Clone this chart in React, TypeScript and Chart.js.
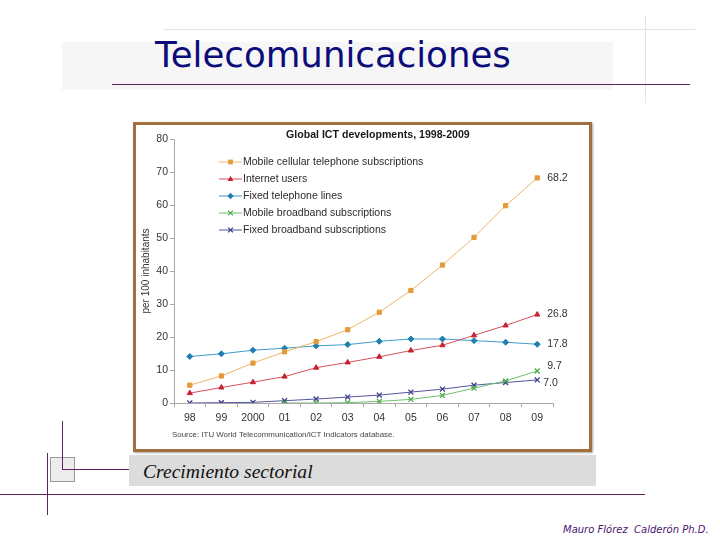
import React, { useEffect, useRef } from "react";
import { Chart, registerables } from "chart.js";

Chart.register(...registerables);

const years = ["98", "99", "2000", "01", "02", "03", "04", "05", "06", "07", "08", "09"];
const mobileCellular = [5.4, 8.2, 12.1, 15.5, 18.6, 22.2, 27.5, 34.1, 41.8, 50.2, 59.8, 68.2];
const internetUsers = [3.0, 4.7, 6.3, 8.0, 10.7, 12.3, 14.0, 15.9, 17.5, 20.5, 23.5, 26.8];
const fixedTelephone = [14.1, 14.9, 16.0, 16.6, 17.3, 17.7, 18.7, 19.4, 19.4, 18.9, 18.4, 17.8];
const mobileBroadband = [null, null, null, 0.0, 0.0, 0.1, 0.5, 1.1, 2.3, 4.5, 6.7, 9.7];
const fixedBroadband = [0.0, 0.1, 0.2, 0.7, 1.2, 1.8, 2.4, 3.3, 4.2, 5.4, 6.2, 7.0];
const seriesNames = [
  "Mobile cellular telephone subscriptions",
  "Internet users",
  "Fixed telephone lines",
  "Mobile broadband subscriptions",
  "Fixed broadband subscriptions",
];
const yTicks = [0, 10, 20, 30, 40, 50, 60, 70, 80];
const chartTitle = "Global ICT developments, 1998-2009";
const yTitle = "per 100 inhabitants";
const sourceText = "Source: ITU World Telecommunication/ICT Indicators database.";
const slideTitle = "Telecomunicaciones";
const caption = "Crecimiento sectorial";
const footer = "Mauro Flórez  Calderón Ph.D.";

const FONT = '"Liberation Sans", Arial, sans-serif';

function drawMarker(ctx: CanvasRenderingContext2D, style: string, x: number, y: number, r: number, color: string) {
  ctx.save();
  ctx.fillStyle = color;
  ctx.strokeStyle = color;
  ctx.lineWidth = 1.3;
  ctx.beginPath();
  if (style === "rect") {
    ctx.rect(x - r * 0.75, y - r * 0.75, r * 1.5, r * 1.5);
    ctx.fill();
  } else if (style === "triangle") {
    ctx.moveTo(x, y - r);
    ctx.lineTo(x + r * 0.9, y + r * 0.6);
    ctx.lineTo(x - r * 0.9, y + r * 0.6);
    ctx.closePath();
    ctx.fill();
  } else if (style === "rectRot") {
    ctx.moveTo(x, y - r);
    ctx.lineTo(x + r, y);
    ctx.lineTo(x, y + r);
    ctx.lineTo(x - r, y);
    ctx.closePath();
    ctx.fill();
  } else {
    const d = r * 0.75;
    ctx.moveTo(x - d, y - d);
    ctx.lineTo(x + d, y + d);
    ctx.moveTo(x + d, y - d);
    ctx.lineTo(x - d, y + d);
    ctx.stroke();
  }
  ctx.restore();
}

const endLabelShift = [
  [0, 0],
  [0, 0],
  [0, 0],
  [0, -5],
  [-4, 3],
];

const overlayPlugin = {
  id: "overlay",
  afterDraw(chart: any) {
    const ctx: CanvasRenderingContext2D = chart.ctx;
    const area = chart.chartArea;
    ctx.save();
    // chart title
    ctx.fillStyle = "#1a1a1a";
    ctx.font = `bold 10.6px ${FONT}`;
    ctx.textAlign = "left";
    ctx.textBaseline = "middle";
    ctx.fillText(chartTitle, area.left + 112, 10);

    // y title
    ctx.save();
    ctx.translate(10, (area.top + area.bottom) / 2);
    ctx.rotate(-Math.PI / 2);
    ctx.font = `10px ${FONT}`;
    ctx.fillStyle = "#333";
    ctx.textAlign = "center";
    ctx.textBaseline = "middle";
    ctx.fillText(yTitle, 0, 0);
    ctx.restore();

    // legend
    chart.data.datasets.forEach((ds: any, i: number) => {
      const y = 37 + i * 17;
      const x0 = area.left + 45;
      ctx.strokeStyle = ds.borderColor;
      ctx.lineWidth = 1;
      ctx.beginPath();
      ctx.moveTo(x0, y);
      ctx.lineTo(x0 + 23, y);
      ctx.stroke();
      drawMarker(ctx, ds.pointStyle, x0 + 11.5, y, 3.2, ds.pointBackgroundColor);
      ctx.fillStyle = "#2a2a2a";
      ctx.font = `10.5px ${FONT}`;
      ctx.textAlign = "left";
      ctx.textBaseline = "middle";
      ctx.fillText(ds.label, x0 + 24, y + 0.5);
    });

    // end labels
    chart.data.datasets.forEach((ds: any, i: number) => {
      const meta = chart.getDatasetMeta(i);
      const last = meta.data[meta.data.length - 1];
      const v = ds.data[ds.data.length - 1];
      ctx.fillStyle = "#333";
      ctx.font = `10.5px ${FONT}`;
      ctx.textAlign = "left";
      ctx.textBaseline = "middle";
      ctx.fillText(Number(v).toFixed(1), last.x + 10 + endLabelShift[i][0], last.y + endLabelShift[i][1]);
    });

    // source
    ctx.fillStyle = "#444";
    ctx.font = `7.9px ${FONT}`;
    ctx.textAlign = "left";
    ctx.textBaseline = "middle";
    ctx.fillText(sourceText, area.left - 2, 310);
    ctx.restore();
  },
};

function ChartBox() {
  const ref = useRef<HTMLCanvasElement>(null);
  useEffect(() => {
    if (!ref.current) return;
    const mk = (label: string, data: any[], line: string, mark: string, style: string) => ({
      label,
      data,
      borderColor: line,
      backgroundColor: mark,
      pointBackgroundColor: mark,
      pointBorderColor: mark,
      pointStyle: style,
      pointRadius: style === "crossRot" ? 3.5 : 3,
      pointBorderWidth: style === "crossRot" ? 1.3 : 1,
      borderWidth: 1,
      tension: 0,
      spanGaps: false,
    });
    const chart = new Chart(ref.current, {
      type: "line",
      data: {
        labels: years,
        datasets: [
          mk(seriesNames[0], mobileCellular, "#f0b468", "#e39a3a", "rect"),
          mk(seriesNames[1], internetUsers, "#d8505a", "#c8202e", "triangle"),
          mk(seriesNames[2], fixedTelephone, "#3d9ccc", "#1f7fb0", "rectRot"),
          mk(seriesNames[3], mobileBroadband, "#70c070", "#4cae4c", "crossRot"),
          mk(seriesNames[4], fixedBroadband, "#5555a0", "#3c3c8c", "crossRot"),
        ],
      },
      options: {
        animation: false,
        responsive: false,
        maintainAspectRatio: false,
        layout: { padding: { left: 0, right: 36, top: 14, bottom: 24 } },
        plugins: { legend: { display: false }, tooltip: { enabled: false }, title: { display: false } },
        scales: {
          x: {
            type: "category",
            offset: true,
            grid: {
              display: true,
              offset: true,
              drawOnChartArea: false,
              drawTicks: true,
              tickLength: 4,
              color: "#a8a8a8",
            },
            border: { display: true, color: "#a8a8a8", width: 1 },
            ticks: { color: "#333", font: { size: 10.5, family: FONT }, padding: 5, maxRotation: 0, autoSkip: false },
            afterFit: (s: any) => {
              s.height = 22;
            },
          },
          y: {
            min: 0,
            max: 80,
            afterBuildTicks: (s: any) => {
              s.ticks = yTicks.map((v) => ({ value: v }));
            },
            grid: {
              display: true,
              drawOnChartArea: false,
              drawTicks: true,
              tickLength: 4,
              color: "#a8a8a8",
            },
            border: { display: true, color: "#a8a8a8", width: 1 },
            ticks: { color: "#333", font: { size: 10.5, family: FONT }, padding: 2 },
            afterFit: (s: any) => {
              s.width = 38;
            },
          },
        },
      },
      plugins: [overlayPlugin],
    });
    return () => chart.destroy();
  }, []);
  return <canvas ref={ref} width={453} height={324} style={{ display: "block", width: 453, height: 324 }} />;
}

export default function App() {
  const purple = "#5e2160";
  return (
    <div
      style={{
        position: "fixed",
        left: 0,
        top: 0,
        width: 720,
        height: 540,
        background: "#ffffff",
        overflow: "hidden",
      }}
    >
      <svg width={720} height={540} style={{ position: "absolute", left: 0, top: 0 }}>
        <rect x={62} y={42} width={551} height={48} fill="#f6f6f6" />
        <line x1={163} y1={29.5} x2={695} y2={29.5} stroke="#e4e4e4" strokeWidth={1} />
        <line x1={645.5} y1={16} x2={645.5} y2={103} stroke="#e4e4e4" strokeWidth={1} />
        <text
          x={155}
          y={67}
          fill="#0c0c7a"
          style={{ fontFamily: '"DejaVu Sans", sans-serif', fontSize: 35.6 }}
        >
          {slideTitle}
        </text>
        <line x1={112} y1={84.5} x2={690} y2={84.5} stroke={purple} strokeWidth={1} />

        <rect x={129} y={455} width={467} height={31} fill="#dcdcdc" />
        <text
          x={143}
          y={478}
          fill="#111"
          style={{ fontFamily: '"Liberation Serif", serif', fontSize: 19.6, fontStyle: "italic" }}
        >
          {caption}
        </text>
        <rect x={50.5} y={457.5} width={24} height={24} fill="#ececec" stroke="#999" strokeWidth={1} />
        <line x1={62.5} y1={421} x2={62.5} y2={469} stroke={purple} strokeWidth={1} />
        <line x1={62} y1={469.5} x2={129} y2={469.5} stroke={purple} strokeWidth={1} />
        <line x1={47.5} y1={453} x2={47.5} y2={515} stroke={purple} strokeWidth={1} />
        <line x1={0} y1={494.5} x2={645} y2={494.5} stroke={purple} strokeWidth={1} />
        <text
          x={563}
          y={533}
          fill="#4a1670"
          style={{ fontFamily: '"DejaVu Sans", sans-serif', fontSize: 10, fontStyle: "italic", whiteSpace: "pre" }}
        >
          {footer}
        </text>
      </svg>
      <div
        style={{
          position: "absolute",
          left: 133,
          top: 122,
          width: 459,
          height: 330,
          boxSizing: "border-box",
          border: "3px solid #a2703f",
          background: "#fff",
          boxShadow: "1px 1px 2px rgba(0,0,0,0.35)",
        }}
      >
        <ChartBox />
      </div>
    </div>
  );
}
